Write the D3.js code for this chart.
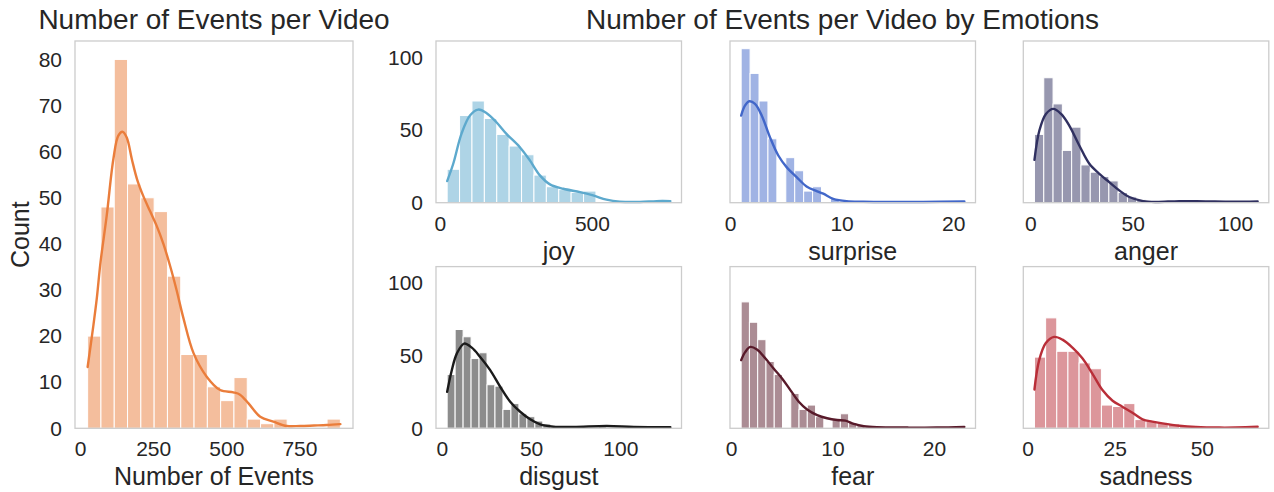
<!DOCTYPE html>
<html>
<head>
<meta charset="utf-8">
<script src="https://cdn.jsdelivr.net/npm/d3@7"></script>
<style>
  body { margin: 0; background: #fff; }
  svg { display: block; font-family: "Liberation Sans", Arial, sans-serif; }
</style>
</head>
<body>
<svg id="chart" width="1274" height="492"></svg>
<script>
// ---- Overall distribution: events per video ----
const totalRange = [26, 890];           // smallest / largest value in the data
const totalCounts = [20, 48, 80, 53, 50, 47, 33, 16, 16, 9, 6, 11, 2, 1, 2, 0, 0, 0, 2];
const totalKde = [[26, 13.3], [45, 22], [57, 28], [70, 36], [91, 46], [114, 58.4], [131, 63.5],
  [146, 64.3], [160, 63], [177, 58.4], [195, 54], [216, 50.4], [240, 47], [262, 43.9], [285, 40],
  [308, 35.2], [330, 30], [353, 24], [388, 16.3], [433, 11.2], [479, 8.3], [524, 7.8], [547, 7.3],
  [576, 5.4], [616, 2.5], [661, 1.45], [707, 0.5], [752, 0.5], [800, 0.6], [844, 0.7], [890, 0.9]];
const totalXTicks = [0, 250, 500, 750];
const totalYTicks = [0, 10, 20, 30, 40, 50, 60, 70, 80];

// ---- Per-emotion distributions ----
const emotions = ["joy", "surprise", "anger", "disgust", "fear", "sadness"];
const emotionRanges = [[24, 758], [1, 21], [2, 111], [3, 128], [1, 23], [2, 66]];

const joyCounts = [23, 60, 70, 58, 47, 39, 33, 19, 11, 9, 7, 8, 0, 0, 0, 0, 0, 2];
const surpriseCounts = [106, 89, 70, 44, 0, 31, 22, 8, 11, 0, 3, 1, 1, 1, 0, 0, 1, 0, 0, 0, 0, 0, 0, 0, 1];
const angerCounts = [47, 86, 68, 36, 52, 26, 21, 18, 15, 7, 4, 2, 1, 0, 0, 1, 0, 0, 0, 0, 0, 0, 0, 1];
const disgustCounts = [37, 68, 63, 48, 52, 30, 29, 13, 17, 10, 8, 5, 3, 1, 1, 0, 0, 0, 0, 1, 0, 0, 0, 0, 0, 0, 0, 1];
const fearCounts = [87, 73, 61, 46, 37, 0, 24, 13, 16, 8, 0, 6, 10, 4, 2, 1, 1, 0, 0, 0, 0, 0, 0, 0, 0, 0, 1];
const sadnessCounts = [49, 76, 53, 53, 45, 41, 16, 15, 17, 6, 5, 4, 3, 2, 1, 1, 0, 0, 0, 1];

const joyKde = [[24, 14.9], [44, 26.8], [71, 47.4], [99, 60], [126, 64.1], [154, 61.6], [186, 55.4],
  [219, 47.4], [263, 38.2], [296, 29.1], [329, 18.8], [362, 12.6], [406, 9.6], [461, 7.3], [504, 5],
  [548, 2.1], [592, 0.7], [658, 0.5], [713, 1.1], [758, 1.1]];
const surpriseKde = [[1, 60], [1.34, 66.8], [1.73, 69.8], [2.24, 68], [2.84, 60], [3.58, 45.1],
  [4.33, 32.5], [5.07, 24.5], [5.97, 17.6], [6.86, 11.2], [7.76, 8], [8.36, 6.2], [9.25, 2.7],
  [10.45, 1.1], [11.94, 0.7], [14.3, 0.5], [17.3, 0.5], [21, 0.9]];
const angerKde = [[2, 29.5], [4.4, 49.7], [7.6, 61.1], [11.2, 64.6], [15, 61.1], [19, 53.1], [23.9, 39.4],
  [28.8, 26.8], [33.7, 19.9], [38.5, 14.2], [43.4, 8.5], [48.3, 3.9], [55, 1.1], [61.3, 0.5],
  [72.7, 1.1], [85.7, 0.9], [98.7, 0.7], [111, 0.9]];
const disgustKde = [[3, 25.1], [5.6, 40], [8.4, 51.4], [12.5, 58.3], [16.8, 55.5], [21.5, 49.1],
  [27.1, 40], [32.7, 28.6], [38.3, 18.3], [43.9, 11.4], [49.5, 6.2], [55.1, 2.7], [62.6, 1.1],
  [73.8, 0.9], [92.5, 1.6], [107.6, 0.9], [128, 0.7]];
const fearKde = [[1, 46.9], [1.41, 52.6], [1.9, 56], [2.56, 54.2], [3.4, 48], [4.2, 41.1], [5.03, 34.3],
  [5.85, 26.3], [6.68, 18.3], [7.5, 13], [8.49, 9.1], [9.47, 6.9], [10.46, 5.7], [11.28, 5.3],
  [12.1, 3], [13.09, 1.4], [14.4, 0.7], [17.4, 0.5], [20.3, 0.5], [23, 0.9]];
const sadnessKde = [[2, 26.7], [3.35, 46.9], [5.26, 58.7], [7.65, 62.9], [10.04, 61], [12.9, 55.5],
  [15.8, 48], [18.6, 37.7], [21.5, 26.3], [24.4, 19], [27.2, 14.9], [30.1, 10.7], [33, 6.2],
  [35.8, 4.6], [38.7, 3.4], [43.5, 1.8], [48.3, 0.9], [55, 0.5], [62.6, 0.7], [66, 1.1]];

const emotionXTicks = [[0, 500], [0, 10, 20], [0, 50, 100], [0, 50, 100], [0, 10, 20], [0, 25, 50]];
const emotionYTicks = [0, 50, 100];

// ---- Styling ----
const totalColor = "#ea7d3b";
const emotionColors = ["#5da9cd", "#4267c9", "#303060", "#1a1a1a", "#581a2a", "#b92e38"];
const textColor = "#262626";
const frameColor = "#cccccc";

const emotionCounts = [joyCounts, surpriseCounts, angerCounts, disgustCounts, fearCounts, sadnessCounts];
const emotionKdes = [joyKde, surpriseKde, angerKde, disgustKde, fearKde, sadnessKde];

const svg = d3.select("#chart");

const TICK_FONT = 21, LABEL_FONT = 25, TITLE_FONT = 28;

// Draws one histogram panel with its density curve and frame.
function panel(box, range, counts, kde, color, xTicks, yTicks, yMax, xLabel, yLabel) {
  const span = range[1] - range[0];
  const x = d3.scaleLinear()
    .domain([range[0] - 0.05 * span, range[1] + 0.05 * span])
    .range([box.x0, box.x1]);
  const y = d3.scaleLinear().domain([0, yMax]).range([box.y1, box.y0]);

  const binW = span / counts.length;
  const bins = counts.map((c, i) => ({ lo: range[0] + i * binW, hi: range[0] + (i + 1) * binW, c }))
    .filter(b => b.c > 0);

  const g = svg.append("g");

  g.selectAll("rect.bar").data(bins).join("rect")
    .attr("class", "bar")
    .attr("x", d => x(d.lo))
    .attr("width", d => x(d.hi) - x(d.lo))
    .attr("y", d => y(d.c))
    .attr("height", d => y(0) - y(d.c))
    .attr("fill", color)
    .attr("fill-opacity", 0.5)
    .attr("stroke", "#fff")
    .attr("stroke-width", 1);

  const line = d3.line()
    .x(d => x(d[0]))
    .y(d => y(d[1]))
    .curve(d3.curveCatmullRom.alpha(0.5));

  g.append("path")
    .datum(kde)
    .attr("d", line)
    .attr("fill", "none")
    .attr("stroke", color)
    .attr("stroke-width", 2.4)
    .attr("stroke-linecap", "round");

  // frame
  g.append("rect")
    .attr("x", box.x0).attr("y", box.y0)
    .attr("width", box.x1 - box.x0).attr("height", box.y1 - box.y0)
    .attr("fill", "none")
    .attr("stroke", frameColor)
    .attr("stroke-width", 1.3);

  // x axis
  const xa = g.append("g")
    .attr("transform", `translate(0,${box.y1})`)
    .call(d3.axisBottom(x).tickValues(xTicks).tickFormat(d3.format("d")).tickSize(0).tickPadding(13));
  xa.select(".domain").remove();
  xa.selectAll("text")
    .attr("fill", textColor)
    .style("font-size", TICK_FONT + "px")
    .style("font-family", "'Liberation Sans', Arial, sans-serif");

  // y axis
  if (yTicks) {
    const ya = g.append("g")
      .attr("transform", `translate(${box.x0},0)`)
      .call(d3.axisLeft(y).tickValues(yTicks).tickFormat(d3.format("d")).tickSize(0).tickPadding(13));
    ya.select(".domain").remove();
    ya.selectAll("text")
      .attr("fill", textColor)
      .style("font-size", TICK_FONT + "px")
      .style("font-family", "'Liberation Sans', Arial, sans-serif");
  }

  if (xLabel) {
    g.append("text")
      .attr("x", (box.x0 + box.x1) / 2)
      .attr("y", box.y1 + 57)
      .attr("text-anchor", "middle")
      .attr("fill", textColor)
      .style("font-size", LABEL_FONT + "px")
      .text(xLabel);
  }
  if (yLabel) {
    g.append("text")
      .attr("transform", `translate(28.5,${(box.y0 + box.y1) / 2}) rotate(-90)`)
      .attr("text-anchor", "middle")
      .attr("fill", textColor)
      .style("font-size", LABEL_FONT + "px")
      .text(yLabel);
  }
}

// Overall panel
const leftBox = { x0: 75, x1: 353, y0: 41, y1: 428.3 };
panel(leftBox, totalRange, totalCounts, totalKde, totalColor,
  totalXTicks, totalYTicks, d3.max(totalCounts) * 1.05, "Number of Events", "Count");

// Emotion panels share one count axis
const sharedMax = d3.max(emotionCounts.flat()) * 1.05;
const colX = [436, 730, 1023.3];
const rowY = [41, 266.6];
const pw = 245.5, ph = 161.7;

emotions.forEach((name, i) => {
  const col = i % 3, row = Math.floor(i / 3);
  const box = { x0: colX[col], x1: colX[col] + pw, y0: rowY[row], y1: rowY[row] + ph };
  panel(box, emotionRanges[i], emotionCounts[i], emotionKdes[i], emotionColors[i],
    emotionXTicks[i], col === 0 ? emotionYTicks : null, sharedMax, name, null);
});

// Titles
svg.append("text")
  .attr("x", (leftBox.x0 + leftBox.x1) / 2)
  .attr("y", 28.5)
  .attr("text-anchor", "middle")
  .attr("fill", textColor)
  .style("font-size", TITLE_FONT + "px")
  .text("Number of Events per Video");

svg.append("text")
  .attr("x", 842.5)
  .attr("y", 28.5)
  .attr("text-anchor", "middle")
  .attr("fill", textColor)
  .style("font-size", TITLE_FONT + "px")
  .text("Number of Events per Video by Emotions");
</script>
</body>
</html>
